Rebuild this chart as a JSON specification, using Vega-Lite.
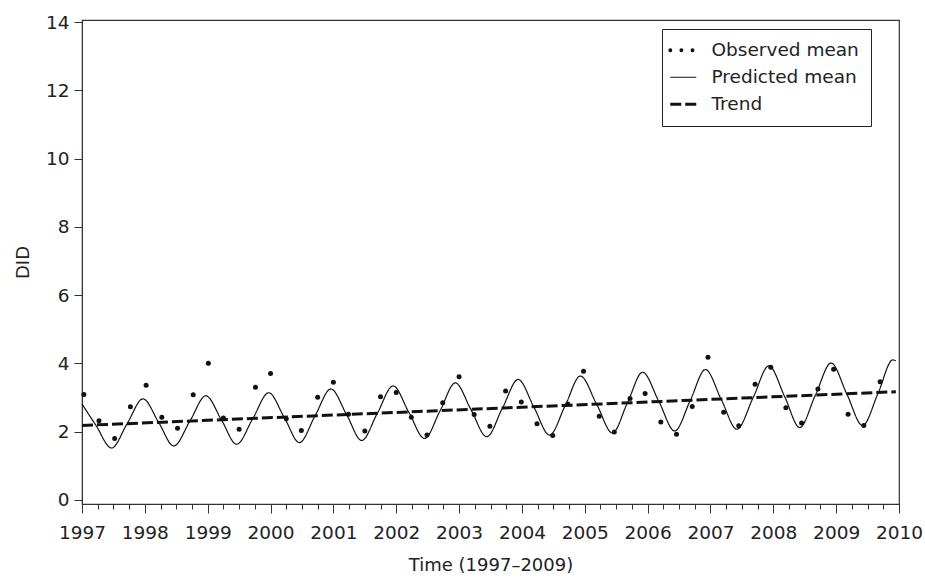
{
  "$schema": "https://vega.github.io/schema/vega-lite/v6.json",
  "autosize": "none",
  "width": 817,
  "height": 484,
  "padding": {"left": 82, "top": 20, "right": 26, "bottom": 74},
  "background": "white",
  "config": {
    "font": "DejaVu Sans",
    "view": {"stroke": "#333", "strokeWidth": 1.2},
    "axis": {"labelFont": "DejaVu Sans", "titleFont": "DejaVu Sans", "labelColor": "#222", "titleColor": "#222", "domainColor": "#333", "tickColor": "#333", "grid": false, "labelFontSize": 18.5, "titleFontSize": 18, "titleFontWeight": "normal"}
  },
  "datasets": {
    "observed": [
      {"year": 1997.03, "value": 3.09}, {"year": 1997.27, "value": 2.32}, {"year": 1997.52, "value": 1.80}, {"year": 1997.77, "value": 2.73},
      {"year": 1998.02, "value": 3.36}, {"year": 1998.27, "value": 2.42}, {"year": 1998.52, "value": 2.10}, {"year": 1998.77, "value": 3.08},
      {"year": 1999.01, "value": 4.00}, {"year": 1999.25, "value": 2.40}, {"year": 1999.50, "value": 2.07}, {"year": 1999.76, "value": 3.30},
      {"year": 2000.00, "value": 3.70}, {"year": 2000.25, "value": 2.38}, {"year": 2000.49, "value": 2.03}, {"year": 2000.75, "value": 3.01},
      {"year": 2001.00, "value": 3.45}, {"year": 2001.24, "value": 2.51}, {"year": 2001.50, "value": 2.02}, {"year": 2001.75, "value": 3.02},
      {"year": 2002.00, "value": 3.15}, {"year": 2002.24, "value": 2.42}, {"year": 2002.49, "value": 1.90}, {"year": 2002.74, "value": 2.85},
      {"year": 2003.00, "value": 3.61}, {"year": 2003.24, "value": 2.50}, {"year": 2003.49, "value": 2.16}, {"year": 2003.74, "value": 3.19},
      {"year": 2003.99, "value": 2.87}, {"year": 2004.24, "value": 2.23}, {"year": 2004.49, "value": 1.89}, {"year": 2004.73, "value": 2.81},
      {"year": 2004.98, "value": 3.77}, {"year": 2005.23, "value": 2.45}, {"year": 2005.47, "value": 1.99}, {"year": 2005.72, "value": 2.97},
      {"year": 2005.96, "value": 3.12}, {"year": 2006.21, "value": 2.28}, {"year": 2006.46, "value": 1.92}, {"year": 2006.71, "value": 2.74},
      {"year": 2006.96, "value": 4.18}, {"year": 2007.21, "value": 2.57}, {"year": 2007.45, "value": 2.17}, {"year": 2007.71, "value": 3.39},
      {"year": 2007.96, "value": 3.89}, {"year": 2008.20, "value": 2.70}, {"year": 2008.45, "value": 2.25}, {"year": 2008.71, "value": 3.25},
      {"year": 2008.96, "value": 3.83}, {"year": 2009.19, "value": 2.51}, {"year": 2009.44, "value": 2.18}, {"year": 2009.70, "value": 3.46}
    ],
    "predicted": [
      {"year": 1997.00, "value": 2.81}, {"year": 1997.22, "value": 2.19}, {"year": 1997.47, "value": 1.52}, {"year": 1997.72, "value": 2.24},
      {"year": 1997.97, "value": 2.96}, {"year": 1998.22, "value": 2.27}, {"year": 1998.46, "value": 1.58}, {"year": 1998.72, "value": 2.32},
      {"year": 1998.97, "value": 3.05}, {"year": 1999.22, "value": 2.34}, {"year": 1999.46, "value": 1.63}, {"year": 1999.72, "value": 2.39},
      {"year": 1999.97, "value": 3.14}, {"year": 2000.22, "value": 2.41}, {"year": 2000.46, "value": 1.68}, {"year": 2000.71, "value": 2.47},
      {"year": 2000.96, "value": 3.25}, {"year": 2001.21, "value": 2.50}, {"year": 2001.45, "value": 1.74}, {"year": 2001.70, "value": 2.54},
      {"year": 2001.95, "value": 3.34}, {"year": 2002.20, "value": 2.57}, {"year": 2002.45, "value": 1.80}, {"year": 2002.70, "value": 2.62},
      {"year": 2002.94, "value": 3.43}, {"year": 2003.19, "value": 2.64}, {"year": 2003.44, "value": 1.85}, {"year": 2003.69, "value": 2.69},
      {"year": 2003.94, "value": 3.53}, {"year": 2004.19, "value": 2.72}, {"year": 2004.44, "value": 1.90}, {"year": 2004.69, "value": 2.77},
      {"year": 2004.93, "value": 3.63}, {"year": 2005.19, "value": 2.80}, {"year": 2005.44, "value": 1.96}, {"year": 2005.68, "value": 2.85},
      {"year": 2005.92, "value": 3.74}, {"year": 2006.18, "value": 2.88}, {"year": 2006.43, "value": 2.02}, {"year": 2006.68, "value": 2.92},
      {"year": 2006.92, "value": 3.82}, {"year": 2007.17, "value": 2.95}, {"year": 2007.42, "value": 2.07}, {"year": 2007.68, "value": 3.00},
      {"year": 2007.93, "value": 3.93}, {"year": 2008.18, "value": 3.03}, {"year": 2008.42, "value": 2.12}, {"year": 2008.67, "value": 3.07},
      {"year": 2008.92, "value": 4.01}, {"year": 2009.17, "value": 3.10}, {"year": 2009.42, "value": 2.18}, {"year": 2009.67, "value": 3.14},
      {"year": 2009.90, "value": 4.10}, {"year": 2009.95, "value": 4.08}
    ],
    "trend": [
      {"year": 1997.0, "value": 2.18}, {"year": 2009.95, "value": 3.17}
    ]
  },
  "encoding": {
    "x": {"field": "year", "type": "quantitative", "scale": {"domain": [1997, 2010], "nice": false, "zero": false},
          "axis": {"orient": "bottom",
                   "values": [1997,1997.25,1997.5,1997.75,1998,1998.25,1998.5,1998.75,1999,1999.25,1999.5,1999.75,2000,2000.25,2000.5,2000.75,2001,2001.25,2001.5,2001.75,2002,2002.25,2002.5,2002.75,2003,2003.25,2003.5,2003.75,2004,2004.25,2004.5,2004.75,2005,2005.25,2005.5,2005.75,2006,2006.25,2006.5,2006.75,2007,2007.25,2007.5,2007.75,2008,2008.25,2008.5,2008.75,2009,2009.25,2009.5,2009.75,2010],
                   "labelExpr": "datum.value % 1 === 0 ? format(datum.value, 'd') : ''",
                   "tickSize": {"condition": {"test": "datum.value % 1 !== 0", "value": 5}, "value": 9},
                   "labelPadding": 10, "title": "Time (1997–2009)", "titlePadding": 15, "labelFlush": false, "labelOverlap": false}},
    "y": {"field": "value", "type": "quantitative", "scale": {"domain": [-0.12, 14.06], "nice": false, "zero": false},
          "axis": {"values": [0,2,4,6,8,10,12,14], "tickSize": 8, "labelPadding": 5, "title": "DID", "titlePadding": 13}}
  },
  "layer": [
    {
      "data": {"name": "predicted"},
      "mark": {"type": "line", "color": "#111", "strokeWidth": 1.2, "interpolate": "monotone"},
      "encoding": {
        "strokeDash": {"datum": "Predicted mean", "type": "nominal",
          "scale": {"domain": ["Observed mean", "Predicted mean", "Trend"], "range": [[0.1, 11], [1, 0], [11, 4]]},
          "legend": {"title": null, "orient": "none", "legendX": 580, "legendY": 9, "symbolType": "stroke", "symbolSize": 676,
                     "symbolStrokeColor": "#111", "symbolStrokeWidth": 1.2, "strokeColor": "#222", "fillColor": "white", "padding": 12, "rowPadding": 8,
                     "labelFont": "DejaVu Sans", "labelFontSize": 18.5, "labelColor": "#222", "labelOffset": 19, "labelLimit": 300,
                     "encode": {"symbols": {"update": {
                        "strokeWidth": {"signal": "datum.value === 'Observed mean' ? 3.8 : (datum.value === 'Trend' ? 3 : 1.2)"},
                        "strokeCap": {"signal": "datum.value === 'Observed mean' ? 'round' : 'butt'"}
                     }}}}}
      }
    },
    {
      "data": {"name": "trend"},
      "mark": {"type": "line", "color": "#111", "strokeWidth": 3},
      "encoding": {
        "strokeDash": {"datum": "Trend", "type": "nominal"}
      }
    },
    {
      "data": {"name": "observed"},
      "mark": {"type": "circle", "color": "#111", "size": 25, "opacity": 1},
      "encoding": {}
    }
  ]
}
